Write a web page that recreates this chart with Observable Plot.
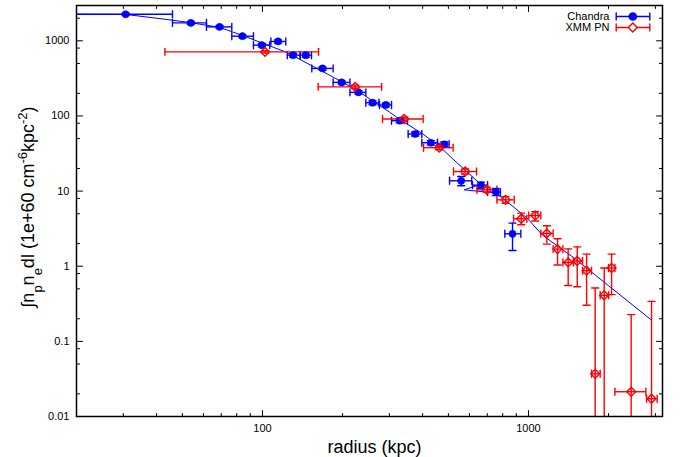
<!DOCTYPE html>
<html>
<head>
<meta charset="utf-8">
<script src="https://cdn.jsdelivr.net/npm/d3@7"></script>
<script src="https://cdn.jsdelivr.net/npm/@observablehq/plot@0.6"></script>
<style>
  html, body { margin: 0; padding: 0; background: #fff; }
  #chart { width: 683px; height: 457px; }
</style>
</head>
<body>
<div id="chart"></div>
<script>
// ---- Chandra (blue, filled circles) ----
const chandraR   = [30.6, 53.8, 69.0, 84.1, 99.5, 114.5, 130.4, 145.5, 168.2, 198.5, 229.6, 259.3, 290.9, 328.3, 375, 429.6, 482.3, 558.5, 662, 754, 871];
const chandraV   = [2257, 1730, 1531, 1152, 875, 980, 644, 644, 429, 279.5, 206, 150, 140, 86.4, 57.5, 44, 42, 13.7, 12.0, 9.7, 2.70];
const chandraRlo = [15, 45.9, 61.6, 76.7, 92.5, 107.6, 124, 138.6, 153.3, 184.4, 213.3, 244.7, 275.4, 305.6, 353, 397.3, 455, 505, 616, 702, 815];
const chandraRhi = [45.9, 61.6, 76.7, 92.5, 106.5, 122.4, 138.6, 152.9, 184.4, 213.3, 244.7, 274, 305.7, 351, 397.3, 455, 503, 612, 702, 784, 936];
const chandraVlo = [2180, 1660, 1470, 1100, 830, 930, 610, 605, 408, 266, 196, 141, 132, 81, 54, 41, 39, 11.8, 10.9, 8.7, 1.62];
const chandraVhi = [2330, 1800, 1590, 1200, 920, 1030, 680, 685, 450, 293, 216, 159, 148, 92, 61, 47, 45, 15.6, 13.1, 10.8, 3.75];

// ---- XMM PN (red, open diamonds) ----
const xmmR   = [102.3, 223, 340.8, 461.8, 578, 697.6, 820, 939, 1060, 1172, 1286, 1410, 1525, 1654, 1781, 1926, 2053, 2432, 2901];
const xmmV   = [713, 244, 91, 37.8, 18.2, 10.4, 7.65, 4.28, 4.73, 2.73, 1.69, 1.124, 1.173, 0.872, 0.037, 0.41, 0.947, 0.02136, 0.01724];
const xmmRlo = [43.0, 162, 282.7, 403.3, 522.8, 640, 761, 879, 1003, 1113, 1238, 1347, 1477, 1597, 1726, 1860, 2001, 2113, 2780];
const xmmRhi = [162.5, 280.4, 401.8, 521, 638, 761, 884, 986, 1113, 1238, 1347, 1477, 1597, 1726, 1860, 2001, 2113, 2762, 3046];
const xmmVlo = [685, 232, 86, 35.5, 16.8, 9.6, 6.9, 3.56, 3.99, 1.97, 1.04, 0.554, 0.533, 0.302, 0.001, 0.001, 0.419, 0.001, 0.001];
const xmmVhi = [741, 257, 96, 40.2, 19.7, 11.3, 8.5, 5.09, 5.3, 3.45, 2.32, 1.70, 1.81, 1.45, 0.514, 0.947, 1.45, 0.227, 0.341];

// ---- model curve (blue line), in drawing order ----
const modelR = [20, 30.6, 45.9, 53.8, 69, 84, 100, 123, 134, 160, 197, 230, 260, 300, 331, 400, 468, 518, 578, 662, 573, 754, 820, 986, 1128, 1500, 2000, 2884];
const modelV = [2257, 2245, 1880, 1740, 1510, 1180, 930, 705, 600, 430, 290, 212, 158, 113, 88, 58, 38, 27, 19, 12.3, 10.4, 9.4, 7.5, 4.4, 2.6, 1.25, 0.55, 0.195];

// ---- axes ----
const xMajor = [100, 1000];
const xMinor = [30, 40, 50, 60, 70, 80, 90, 200, 300, 400, 500, 600, 700, 800, 900, 2000, 3000];
const yMajor = [0.01, 0.1, 1, 10, 100, 1000];
const yMinor = [0.02, 0.05, 0.08, 0.2, 0.5, 0.8, 2, 5, 8, 20, 50, 80, 200, 500, 800, 2000];
const seriesNames = ["Chandra", "XMM PN"];
const seriesColors = ["#0000ff", "#ff0000"];

const chandra = chandraR.map((r, i) => ({r, v: chandraV[i], rlo: chandraRlo[i], rhi: chandraRhi[i], vlo: chandraVlo[i], vhi: chandraVhi[i]}));
const xmm = xmmR.map((r, i) => ({r, v: xmmV[i], rlo: xmmRlo[i], rhi: xmmRhi[i], vlo: xmmVlo[i], vhi: xmmVhi[i]}));
const model = modelR.map((r, i) => ({r, v: modelV[i]}));

const lineShape = {draw(c, l) { c.moveTo(0, 0); c.lineTo(0, -l); }};
const errShape = {draw(c, l) {
  c.moveTo(0, 0); c.lineTo(0, -l);
  c.moveTo(-3.5, 0); c.lineTo(3.5, 0);
  c.moveTo(-3.5, -l); c.lineTo(3.5, -l);
}};

function errorBars(data, color) {
  const o = {stroke: color, strokeWidth: 1.4, clip: true};
  return [
    Plot.ruleY(data, {y: "v", x1: "rlo", x2: "rhi", ...o}),
    Plot.ruleX(data, {x: "r", y1: "vlo", y2: "vhi", ...o}),
    Plot.vector(data, {x: "rlo", y: "v", length: 7, anchor: "middle", rotate: 0, shape: lineShape, ...o}),
    Plot.vector(data, {x: "rhi", y: "v", length: 7, anchor: "middle", rotate: 0, shape: lineShape, ...o}),
    Plot.vector(data, {x: "r", y: "vlo", length: 7, anchor: "middle", rotate: 90, shape: lineShape, ...o}),
    Plot.vector(data, {x: "r", y: "vhi", length: 7, anchor: "middle", rotate: 90, shape: lineShape, ...o})
  ];
}

function ticks(values, dim, side, len) {
  const rot = {bottom: 0, top: 180, left: 90, right: -90}[side];
  const ch = dim === "x" ? {x: d => d} : {y: d => d};
  return Plot.vector(values, {...ch, frameAnchor: side, length: len, anchor: "start", rotate: rot, shape: lineShape, stroke: "black", strokeWidth: 1});
}

const chart = Plot.plot({
  width: 683,
  height: 457,
  marginLeft: 76,
  marginRight: 21,
  marginTop: 5,
  marginBottom: 41,
  style: {fontFamily: "'Liberation Sans', Arial, Helvetica, sans-serif", fontSize: "11px", background: "white", color: "black"},
  x: {type: "log", domain: [20, 3190], label: null},
  y: {type: "log", domain: [0.01, 2950], label: null},
  marks: [
    Plot.line(model, {x: "r", y: "v", stroke: seriesColors[0], strokeWidth: 1, clip: true}),
    ...errorBars(chandra, seriesColors[0]),
    ...errorBars(xmm, seriesColors[1]),
    Plot.dot(chandra, {x: "r", y: "v", r: 3.6, fill: seriesColors[0], stroke: seriesColors[0], strokeWidth: 0.5, clip: true}),
    Plot.dot(xmm, {x: "r", y: "v", symbol: "diamond2", r: 4, fill: "none", stroke: seriesColors[1], strokeWidth: 1.4, clip: true}),
    ticks(xMajor, "x", "bottom", 6), ticks(xMajor, "x", "top", 6),
    ticks(xMinor, "x", "bottom", 3), ticks(xMinor, "x", "top", 3),
    ticks(yMajor, "y", "left", 6), ticks(yMajor, "y", "right", 6),
    ticks(yMinor, "y", "left", 3), ticks(yMinor, "y", "right", 3),
    Plot.axisX({ticks: xMajor, tickSize: 0, tickPadding: 8, tickFormat: d => String(d), fontSize: 11, label: null}),
    Plot.axisY({ticks: yMajor, tickSize: 0, tickPadding: 7, tickFormat: d => String(d), fontSize: 11, label: null}),
    Plot.frame({stroke: "black", strokeWidth: 1.5}),
    // legend
    Plot.text([seriesNames[0]], {text: d => d, frameAnchor: "top-right", dx: -53, dy: 11, textAnchor: "end", lineAnchor: "middle", fontSize: 11}),
    Plot.text([seriesNames[1]], {text: d => d, frameAnchor: "top-right", dx: -53, dy: 22, textAnchor: "end", lineAnchor: "middle", fontSize: 11}),
    Plot.vector([0], {frameAnchor: "top-right", dx: -46.3, dy: 11, length: 33.6, rotate: 90, anchor: "start", shape: errShape, stroke: seriesColors[0], strokeWidth: 1.4}),
    Plot.vector([0], {frameAnchor: "top-right", dx: -46.3, dy: 22, length: 33.6, rotate: 90, anchor: "start", shape: errShape, stroke: seriesColors[1], strokeWidth: 1.4}),
    Plot.dot([0], {frameAnchor: "top-right", dx: -29.7, dy: 11, r: 3.6, fill: seriesColors[0], stroke: seriesColors[0]}),
    Plot.dot([0], {frameAnchor: "top-right", dx: -29.7, dy: 22, r: 4, symbol: "diamond2", fill: "white", stroke: seriesColors[1], strokeWidth: 1.4}),
    // x axis title
    Plot.text(["radius (kpc)"], {text: d => d, frameAnchor: "bottom", dx: 5, dy: 31, lineAnchor: "middle", fontSize: 18})
  ]
});

// y axis title with sub/superscripts
const svg = d3.select(chart);
const t = svg.append("text")
  .attr("transform", "translate(34,207) rotate(-90)")
  .attr("text-anchor", "middle")
  .attr("font-size", 18)
  .attr("fill", "black")
  .attr("font-family", "'Liberation Sans', Arial, Helvetica, sans-serif");
const parts = [["∫n", null], ["p", "sub"], ["n", null], ["e", "sub"], ["dl (1e+60 cm", null], ["-6", "super"], ["kpc", null], ["-2", "super"], [")", null]];
for (const [s, shift] of parts) {
  const ts = t.append("tspan").text(s);
  if (shift) ts.attr("baseline-shift", shift).attr("font-size", 13);
}

document.getElementById("chart").appendChild(chart);
</script>
</body>
</html>
